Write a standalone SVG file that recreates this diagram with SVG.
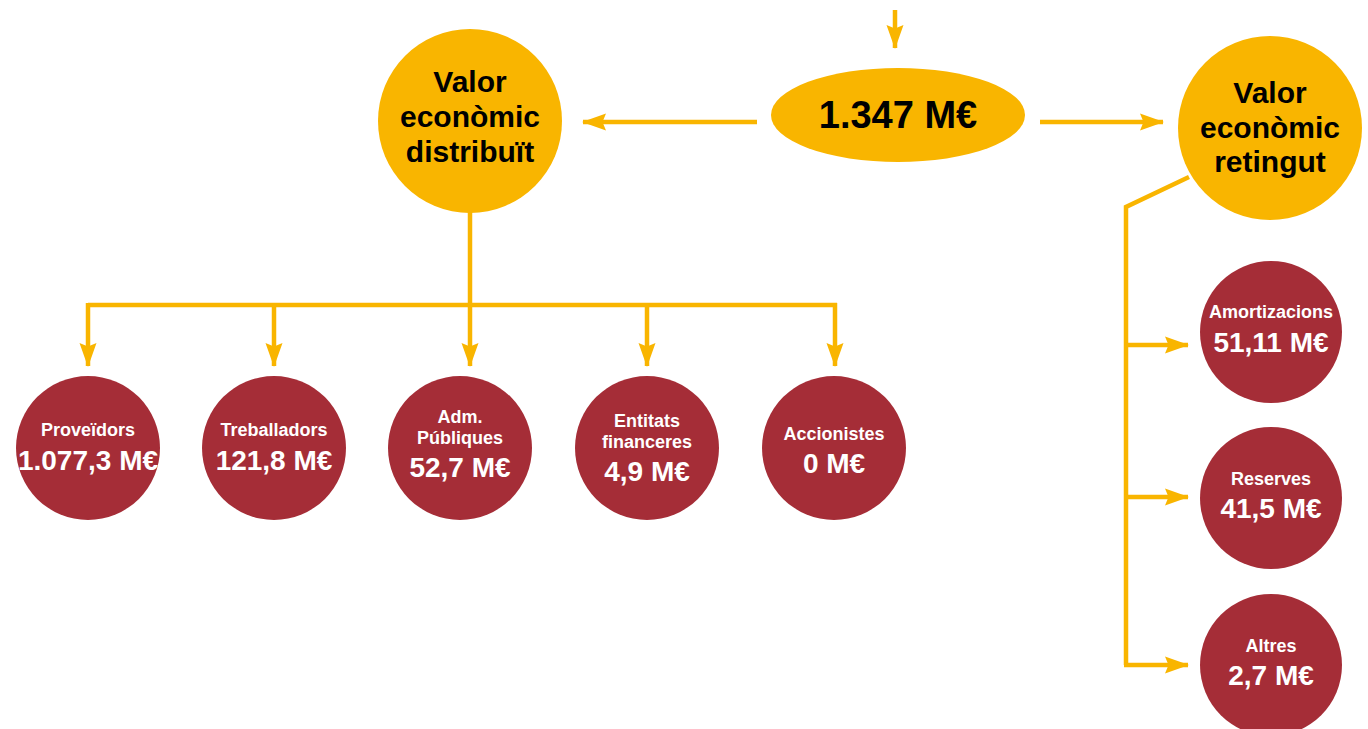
<svg xmlns="http://www.w3.org/2000/svg" width="1368" height="729" viewBox="0 0 1368 729">
<style>
.y{fill:#F9B500}
.r{fill:#A52D37}
.c{fill:none;stroke:#F9B500;stroke-width:4.5}
.a{marker-end:url(#ah)}
.bt{font-family:"Liberation Sans",Arial,sans-serif;font-weight:bold;fill:#000;text-anchor:middle}
.wt{font-family:"Liberation Sans",Arial,sans-serif;font-weight:bold;fill:#fff;text-anchor:middle}
.big{font-size:30px}
.lab{font-size:18px}
.val{font-size:28px}
</style>
<defs>
<marker id="ah" markerUnits="userSpaceOnUse" viewBox="0 0 24 18" markerWidth="24" markerHeight="18" refX="23" refY="9" orient="auto">
<path d="M0,0.5 L24,9 L0,17.5 L3.5,9 z" fill="#F9B500"/>
</marker>
</defs>
<g id="connectors">
<line class="c a" x1="895" y1="10" x2="895" y2="48"/>
<line class="c a" x1="757" y1="122" x2="583" y2="122"/>
<line class="c a" x1="1040" y1="122" x2="1163" y2="122"/>
<polyline class="c" points="470,212 470,305"/>
<polyline class="c" points="88,305 837,305"/>
<line class="c a" x1="88" y1="303" x2="88" y2="366"/>
<line class="c a" x1="274" y1="305" x2="274" y2="366"/>
<line class="c a" x1="470" y1="305" x2="470" y2="366"/>
<line class="c a" x1="647" y1="305" x2="647" y2="366"/>
<line class="c a" x1="835" y1="303" x2="835" y2="366"/>
<polyline class="c" points="1189,177 1126,207 1126,665"/>
<line class="c a" x1="1124" y1="345" x2="1188" y2="345"/>
<line class="c a" x1="1124" y1="497" x2="1188" y2="497"/>
<line class="c a" x1="1124" y1="665" x2="1188" y2="665"/>
</g>
<g id="total">
<ellipse class="y" cx="898" cy="115" rx="127" ry="47"/>
<text class="bt" x="898" y="128" font-size="38">1.347 M€</text>
</g>
<g id="distribuit">
<circle class="y" cx="470" cy="121" r="92"/>
<text class="bt big" x="470" y="92">Valor</text>
<text class="bt big" x="470" y="127">econòmic</text>
<text class="bt big" x="470" y="162">distribuït</text>
</g>
<g id="retingut">
<circle class="y" cx="1270" cy="128" r="92"/>
<text class="bt big" x="1270" y="103">Valor</text>
<text class="bt big" x="1270" y="138">econòmic</text>
<text class="bt big" x="1270" y="172">retingut</text>
</g>
<g id="proveidors">
<circle class="r" cx="88" cy="448" r="72"/>
<text class="wt lab" x="88" y="436">Proveïdors</text>
<text class="wt val" x="88" y="470">1.077,3 M€</text>
</g>
<g id="treballadors">
<circle class="r" cx="274" cy="448" r="72"/>
<text class="wt lab" x="274" y="436">Treballadors</text>
<text class="wt val" x="274" y="470">121,8 M€</text>
</g>
<g id="adm">
<circle class="r" cx="460" cy="448" r="72"/>
<text class="wt lab" x="460" y="423">Adm.</text>
<text class="wt lab" x="460" y="444">Públiques</text>
<text class="wt val" x="460" y="477">52,7 M€</text>
</g>
<g id="entitats">
<circle class="r" cx="647" cy="448" r="72"/>
<text class="wt lab" x="647" y="427">Entitats</text>
<text class="wt lab" x="647" y="448">financeres</text>
<text class="wt val" x="647" y="481">4,9 M€</text>
</g>
<g id="accionistes">
<circle class="r" cx="834" cy="448" r="72"/>
<text class="wt lab" x="834" y="440">Accionistes</text>
<text class="wt val" x="834" y="473">0 M€</text>
</g>
<g id="amortizacions">
<circle class="r" cx="1271" cy="332" r="71"/>
<text class="wt lab" x="1271" y="318">Amortizacions</text>
<text class="wt val" x="1271" y="352">51,11 M€</text>
</g>
<g id="reserves">
<circle class="r" cx="1271" cy="498" r="71"/>
<text class="wt lab" x="1271" y="485">Reserves</text>
<text class="wt val" x="1271" y="518">41,5 M€</text>
</g>
<g id="altres">
<circle class="r" cx="1271" cy="665" r="71"/>
<text class="wt lab" x="1271" y="652">Altres</text>
<text class="wt val" x="1271" y="685">2,7 M€</text>
</g>
</svg>
